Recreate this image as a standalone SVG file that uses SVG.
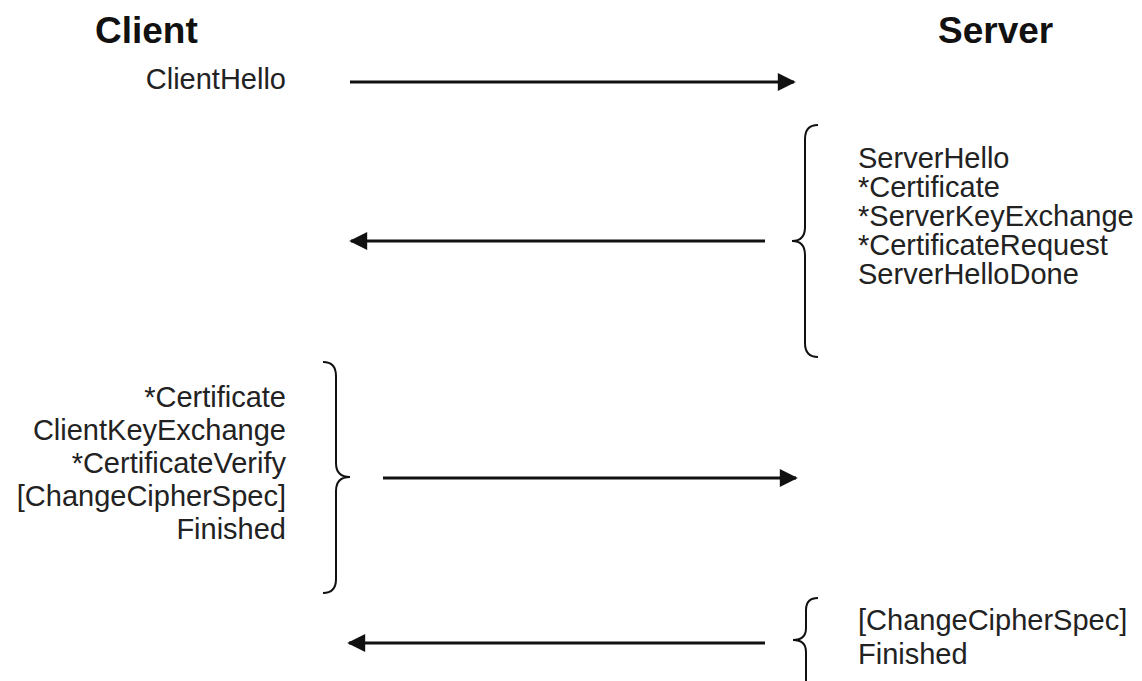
<svg xmlns="http://www.w3.org/2000/svg" width="1142" height="681" viewBox="0 0 1142 681">
<defs>
<style>
.title{font-family:"Liberation Sans",Arial,sans-serif;font-weight:bold;font-size:37px;fill:#111}
.msg{font-family:"Liberation Sans",Arial,sans-serif;font-size:29px;fill:#222}
.r{text-anchor:end}
.arrow{stroke:#111;stroke-width:3;fill:none}
.brace{stroke:#111;stroke-width:2;fill:none}
</style>
<marker id="ah" viewBox="0 0 10 10" refX="9" refY="5" markerWidth="6.5" markerHeight="6" markerUnits="strokeWidth" orient="auto">
<path d="M0,0 L10,5 L0,10 z" fill="#111"/>
</marker>
</defs>
<rect width="1142" height="681" fill="#fff"/>
<g id="client-title"><text class="title" x="95" y="43">Client</text></g>
<g id="server-title"><text class="title" x="938" y="43">Server</text></g>
<g id="client-hello"><text class="msg r" x="286" y="89">ClientHello</text></g>
<g id="server-hello-group">
<text class="msg" x="858" y="168">ServerHello</text>
<text class="msg" x="858" y="197">*Certificate</text>
<text class="msg" x="858" y="226">*ServerKeyExchange</text>
<text class="msg" x="858" y="255">*CertificateRequest</text>
<text class="msg" x="858" y="284">ServerHelloDone</text>
<path class="brace" d="M818,125 Q805,125 805,139 L805,227 Q805,241 792,241 Q805,241 805,255 L805,343 Q805,357 818,357"/>
</g>
<g id="client-key-group">
<text class="msg r" x="286" y="407">*Certificate</text>
<text class="msg r" x="286" y="440">ClientKeyExchange</text>
<text class="msg r" x="286" y="473">*CertificateVerify</text>
<text class="msg r" x="286" y="506">[ChangeCipherSpec]</text>
<text class="msg r" x="286" y="539">Finished</text>
<path class="brace" d="M323,362 Q336,362 336,376 L336,463 Q336,477 350,477 Q336,477 336,491 L336,579 Q336,593 323,593"/>
</g>
<g id="server-finished-group">
<text class="msg" x="858" y="630">[ChangeCipherSpec]</text>
<text class="msg" x="858" y="664">Finished</text>
<path class="brace" d="M818,598 Q806,598 806,610 L806,628 Q806,640 793,640 Q806,640 806,652 L806,700"/>
</g>
<g id="connectors">
<line class="arrow" x1="350" y1="82" x2="794" y2="82" marker-end="url(#ah)"/>
<line class="arrow" x1="765" y1="241" x2="351" y2="241" marker-end="url(#ah)"/>
<line class="arrow" x1="383" y1="478" x2="796" y2="478" marker-end="url(#ah)"/>
<line class="arrow" x1="765" y1="643" x2="349" y2="643" marker-end="url(#ah)"/>
</g>
</svg>
